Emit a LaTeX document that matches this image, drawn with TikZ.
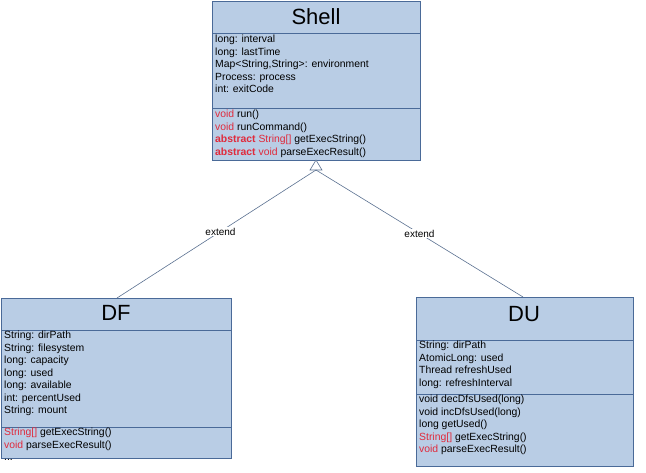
\documentclass[tikz,border=0pt]{standalone}
\usepackage{fontspec}
\setmainfont{Liberation Sans}
\begin{document}
\begin{tikzpicture}[x=1pt,y=-1pt,
  cls/.style={draw=bd,fill=bf,line width=0.8pt,inner sep=0,anchor=north west},
  sep/.style={draw=bd,line width=0.8pt},
  ttl/.style={font=\fontsize{22}{24}\selectfont},
  txt/.style={anchor=north west,align=left,inner sep=0,font=\fontsize{10.4}{12.5}\selectfont},
  lnk/.style={draw=ln,line width=0.6pt},
  lbl/.style={font=\fontsize{10}{11}\selectfont,fill=white,inner sep=1pt}]
\definecolor{bf}{HTML}{B9CDE5}
\definecolor{bd}{HTML}{4A6A98}
\definecolor{ln}{HTML}{5A7090}
\definecolor{rd}{HTML}{E02A3C}
\newcommand{\rr}[1]{\textcolor{rd}{#1}}
\useasboundingbox (0,0) rectangle (646,472);
% Shell
\node[cls,minimum width=208,minimum height=159] (shell) at (212,1) {};
\draw[sep] (212,33) -- (420,33) (212,108) -- (420,108);
\node[ttl] (shellT) at (316,17) {Shell};
\node[txt] (shellA) at (215,35) {long: interval\\long: lastTime\\Map<String,String>: environment\\Process: process\\int: exitCode};
\node[txt] (shellM) at (215,110) {\rr{void} run()\\\rr{void} runCommand()\\\rr{\textbf{abstract} String[]} getExecString()\\\rr{\textbf{abstract} void} parseExecResult()};
% DF
\node[cls,minimum width=230,minimum height=160] (df) at (1,298) {};
\draw[sep] (1,330) -- (231,330) (1,427) -- (231,427);
\node[ttl] (dfT) at (116,313) {DF};
\node[txt] (dfA) at (4,331) {String: dirPath\\String: filesystem\\long: capacity\\long: used\\long: available\\int: percentUsed\\String: mount};
\node[txt] (dfM) at (4,428) {\rr{String[]} getExecString()\\\rr{void} parseExecResult()\\...};
% DU
\node[cls,minimum width=217,minimum height=169] (du) at (416,297) {};
\draw[sep] (416,340) -- (633,340) (416,394) -- (633,394);
\node[ttl] (duT) at (524,314) {DU};
\node[txt] (duA) at (419,341) {String: dirPath\\AtomicLong: used\\Thread refreshUsed\\long: refreshInterval};
\node[txt] (duM) at (419,395) {void decDfsUsed(long)\\void incDfsUsed(long)\\long getUsed()\\\rr{String[]} getExecString()\\\rr{void} parseExecResult()};
% links
\coordinate (tip) at (316,160);
\coordinate (tb) at (316,170);
\coordinate (dfTop) at (117,298);
\coordinate (duTop) at (523,297);
\draw[lnk,fill=white] (tip) -- (310,170) -- (322,170) -- cycle;
\draw[lnk] (tb) -- node[lbl,pos=0.48] (e1) {extend} (dfTop);
\draw[lnk] (tb) -- node[lbl,pos=0.5] (e2) {extend} (duTop);
\end{tikzpicture}
\end{document}
